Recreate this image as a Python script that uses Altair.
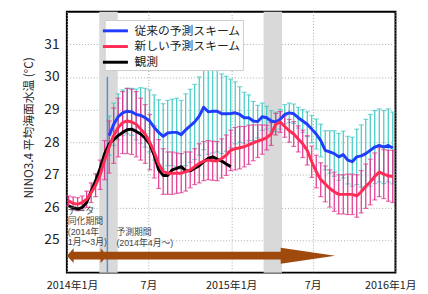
import altair as alt
import pandas as pd

JP = "Noto Sans CJK JP"
ANNOT_FONT = "Liberation Sans, Noto Sans CJK JP"
S_OLD = "従来の予測スキーム"
S_NEW = "新しい予測スキーム"
S_OBS = "観測"

# 10-day steps from early Jan 2014
dates = pd.date_range("2014-01-05", periods=73, freq="10D")

new_scheme = [26.2, 26.12, 26.1, 26.15, 26.25, 26.45, 26.68, 27.0, 27.45, 27.85,
              28.2, 28.45, 28.6, 28.65, 28.62, 28.55, 28.4, 28.25, 28.0, 27.7,
              27.33, 27.1, 27.05, 27.05, 27.05, 27.05, 27.1, 27.15, 27.25, 27.35,
              27.42, 27.45, 27.43, 27.42, 27.5, 27.6, 27.75, 27.8, 27.83, 27.86,
              27.92, 27.98, 28.03, 28.08, 28.14, 28.25, 28.55, 28.62, 28.48, 28.35,
              28.25, 28.1, 27.95, 27.75, 27.4, 27.1, 26.85, 26.72, 26.58, 26.48,
              26.4, 26.4, 26.4, 26.4, 26.35, 26.48, 26.65, 26.78, 26.95, 27.08,
              27.02, 26.97, 26.95]
new_err = [0.15, 0.2, 0.2, 0.2, 0.25, 0.3, 0.35, 0.45, 0.6, 0.8,
           0.85, 0.9, 0.95, 1.0, 1.0, 1.0, 0.95, 0.9, 0.85, 0.8,
           0.75, 0.7, 0.65, 0.65, 0.62, 0.6, 0.6, 0.55, 0.55, 0.6,
           0.6, 0.6, 0.6, 0.6, 0.6, 0.62, 0.62, 0.65, 0.65, 0.62,
           0.6, 0.55, 0.5, 0.45, 0.38, 0.35, 0.33, 0.32, 0.33, 0.35,
           0.38, 0.4, 0.42, 0.45, 0.48, 0.5, 0.52, 0.55, 0.57, 0.6,
           0.6, 0.6, 0.62, 0.62, 0.65, 0.65, 0.68, 0.7, 0.72, 0.75,
           0.75, 0.78, 0.8]

old_start = 9  # forecasts start at the beginning of April 2014
old_scheme = [28.2,
              28.55, 28.78, 28.9, 28.95, 28.93, 28.85, 28.82, 28.75, 28.65, 28.45,
              28.3, 28.18, 28.28, 28.3, 28.3, 28.23, 28.38, 28.5, 28.62, 28.8,
              29.07, 28.93, 28.95, 28.95, 28.87, 28.87, 28.88, 28.9, 28.85, 28.75,
              28.75, 28.65, 28.63, 28.78, 28.75, 28.65, 28.62, 28.7, 28.85, 28.9,
              28.87, 28.75, 28.65, 28.55, 28.4, 28.25, 28.05, 27.75, 27.7, 27.65,
              27.55, 27.62, 27.45, 27.4, 27.55, 27.58, 27.65, 27.75, 27.85, 27.9,
              27.85, 27.9, 27.82]
old_err = [0.6,
           0.65, 0.7, 0.7, 0.7, 0.72, 0.78, 0.85, 0.9, 0.95, 1.0,
           1.0, 1.0, 1.0, 1.02, 1.05, 1.05, 1.1, 1.12, 1.15, 1.2,
           1.3, 1.3, 1.28, 1.25, 1.22, 1.15, 1.05, 0.95, 0.85, 0.78,
           0.7, 0.6, 0.5, 0.42, 0.35, 0.32, 0.3, 0.3, 0.3, 0.3,
           0.3, 0.32, 0.35, 0.38, 0.42, 0.46, 0.5, 0.6, 0.65, 0.7,
           0.72, 0.72, 0.73, 0.75, 0.85, 0.95, 1.05, 1.1, 1.12, 1.12,
           1.12, 1.12, 1.1]

observed = [26.05, 25.98, 25.95, 26.0, 26.15, 26.5, 26.82, 27.2, 27.65, 27.95,
            28.08, 28.2, 28.3, 28.38, 28.4, 28.33, 28.25, 28.12, 27.95, 27.6,
            27.15, 26.98, 26.98, 27.15, 27.2, 27.25, 27.12, 27.12, 27.2, 27.28,
            27.4, 27.5, 27.55, 27.48, 27.42, 27.33, 27.25]

band_start = ["2014-03-14T00:00:00", "2015-03-14T00:00:00"]
band_end = ["2014-04-24T00:00:00", "2015-04-24T00:00:00"]
forecast_start = ["2014-04-01T00:00:00"]

x_ticks = [alt.DateTime(year=2014, month=1, date=1), alt.DateTime(year=2014, month=7, date=1),
           alt.DateTime(year=2015, month=1, date=1), alt.DateTime(year=2015, month=7, date=1),
           alt.DateTime(year=2016, month=1, date=1)]
y_ticks = [25, 26, 27, 28, 29, 30, 31]

new_df = pd.DataFrame({"date": dates, "value": new_scheme, "series": S_NEW})
new_df["lo"] = new_df["value"] - pd.Series(new_err)
new_df["hi"] = new_df["value"] + pd.Series(new_err)
old_df = pd.DataFrame({"date": dates[old_start:], "value": old_scheme, "series": S_OLD})
old_df["lo"] = old_df["value"] - pd.Series(old_err, index=old_df.index)
old_df["hi"] = old_df["value"] + pd.Series(old_err, index=old_df.index)
obs_df = pd.DataFrame({"date": dates[:len(observed)], "value": observed, "series": S_OBS})

bands_df = pd.DataFrame({"start": band_start, "end": band_end})
vline_df = pd.DataFrame({"date": forecast_start, "top": [30.0], "bottom": [24.0]})

# brown period arrows (annotation)
BROWN = "#A0490C"
ARROW_Y = 24.52
shaft_start = ["2014-01-10T00:00:00", "2014-03-25T00:00:00"]
shaft_end = ["2014-03-22T00:00:00", "2015-04-24T00:00:00"]
head_group = ["L", "L", "R", "R", "B", "B"]
head_date = ["2014-01-01T00:00:00", "2014-01-16T00:00:00",
             "2014-03-17T00:00:00", "2014-04-01T00:00:00",
             "2015-04-21T00:00:00", "2015-08-20T00:00:00"]
head_half = [0.0, 0.225, 0.225, 0.0, 0.245, 0.0]

shaft_df = pd.DataFrame({"start": shaft_start, "end": shaft_end, "y": [ARROW_Y] * 2})
head_df = pd.DataFrame({"group": head_group, "date": head_date})
head_df["lo"] = ARROW_Y - pd.Series(head_half)
head_df["hi"] = ARROW_Y + pd.Series(head_half)

text_df = pd.DataFrame({"date": ["2014-01-03T00:00:00", "2014-04-21T00:00:00"],
                        "y": [26.02, 25.35],
                        "label": ["データ\n同化期間\n(2014年\n1月～3月)", "予測期間\n(2014年4月～)"]})

xscale = alt.Scale(domain=[alt.DateTime(year=2014, month=1, date=1),
                           alt.DateTime(year=2016, month=1, date=1)], nice=False)
yscale = alt.Scale(domain=[24, 32], nice=False, zero=False)

xaxis = alt.Axis(values=x_ticks, ticks=False, domain=False, labelPadding=7,
                 labelFontSize=11, labelFont=JP, labelColor="#222222",
                 labelFlush=True, labelFlushOffset=21,
                 labelExpr="month(datum.value) == 0 ? year(datum.value) + '年1月' : '7月'",
                 grid=True, gridDash=[1, 2], gridColor="#aaaaaa", labelOverlap=False)
yaxis = alt.Axis(values=y_ticks, ticks=False, domain=False, labelPadding=8,
                 labelFontSize=14, labelFont=JP, labelColor="#222222", labelFlush=False,
                 grid=True, gridDash=[1, 2], gridColor="#aaaaaa",
                 title="NINO3.4 平均海面水温 (°C)", titleFont=JP, titleFontSize=12,
                 titleFontWeight="normal", titleColor="#222222",
                 titleX=-39, titleY=118, titleAlign="center", titleBaseline="middle", titleAngle=270)


def X(field):
    return alt.X(field, type="temporal", scale=xscale, axis=xaxis, title=None)


def Y(field):
    return alt.Y(field, type="quantitative", scale=yscale, axis=yaxis)


color_scale = alt.Scale(domain=[S_OLD, S_NEW, S_OBS], range=["#1f3cff", "#ff2d55", "#000000"])
legend = alt.Legend(title=None, orient="none", legendX=38.5, legendY=8.5,
                    symbolType="M -1.7 0 L 1.7 0", symbolStrokeWidth=3, symbolSize=225,
                    labelFontSize=12, labelFont=JP, labelColor="#222222",
                    padding=2, rowPadding=1, fillColor="white",
                    strokeColor="#cccccc", labelLimit=250, labelOffset=10.5)

bands = alt.Chart(bands_df).mark_rect(color="#d9d9d9").encode(x=X("start"), x2="end")
vline = alt.Chart(vline_df).mark_rule(color="#5b8dcc", strokeWidth=1.5).encode(
    x=X("date"), y=Y("top"), y2="bottom")


def errbars(df, color):
    base = alt.Chart(df)
    r = base.mark_rule(color=color, strokeWidth=1.2).encode(x=X("date"), y=Y("lo"), y2="hi")
    t1 = base.mark_tick(color=color, orient="horizontal", size=5, thickness=1.2).encode(
        x=X("date"), y=Y("lo"))
    t2 = base.mark_tick(color=color, orient="horizontal", size=5, thickness=1.2).encode(
        x=X("date"), y=Y("hi"))
    return r + t1 + t2


cyan_bars = errbars(old_df, "#3cc8c0")
pink_bars = errbars(new_df, "#e0308c")


def line(df):
    return alt.Chart(df).mark_line(strokeWidth=3, strokeJoin="round").encode(
        x=X("date"), y=Y("value"),
        color=alt.Color("series:N", scale=color_scale, legend=legend))


blue_line = line(old_df)
black_line = line(obs_df)
red_line = line(new_df)

shafts = alt.Chart(shaft_df).mark_rule(color=BROWN, strokeWidth=8).encode(
    x=X("start"), x2="end", y=Y("y"))
heads = alt.Chart(head_df).mark_area(color=BROWN, opacity=1).encode(
    x=X("date"), y=Y("lo"), y2="hi", detail="group:N")

texts = alt.Chart(text_df).mark_text(
    align="left", baseline="top", fontSize=9, lineHeight=10.8, lineBreak="\n",
    font=ANNOT_FONT, color="#444444").encode(x=X("date"), y=Y("y"), text="label:N")

chart = alt.layer(
    bands, vline, cyan_bars, pink_bars, blue_line, black_line, red_line,
    shafts, heads, texts
).properties(
    width=335, height=266,
    padding={"left": 60, "top": 1, "right": 25, "bottom": 19},
    autosize=alt.AutoSizeParams(type="none"),
).configure_view(stroke="black", strokeWidth=2)

chart.save("out.html", embed_options={"renderer": "svg", "actions": False})
